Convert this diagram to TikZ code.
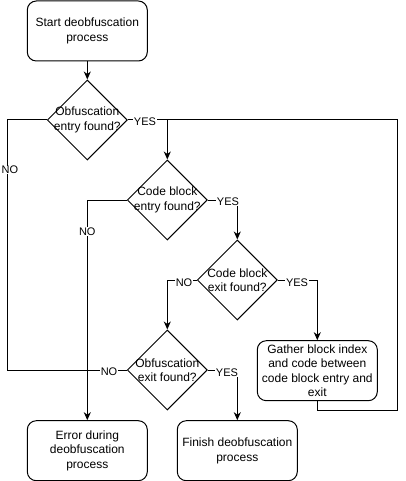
\documentclass[tikz,border=0pt]{standalone}
\usepackage{fontspec}
\setmainfont{Liberation Sans}
\usetikzlibrary{shapes.geometric,arrows.meta}
\begin{document}
\begin{tikzpicture}[x=1pt,y=-1pt,
  every node/.style={font=\fontsize{12}{14.4}\selectfont},
  proc/.style={draw,line width=1pt,rounded corners=9pt,minimum width=120pt,minimum height=60pt,align=center,inner sep=1pt},
  decision/.style={draw,line width=1pt,diamond,aspect=1,minimum width=80pt,minimum height=80pt,inner sep=0pt},
  dtext/.style={align=center,inner sep=0pt},
  flow/.style={line width=1pt,-{Stealth[length=8pt,width=7pt,inset=2.5pt]}},
  plain/.style={line width=1pt},
  lbl/.style={fill=white,inner sep=0.6pt,font=\fontsize{11}{12}\selectfont}]
\useasboundingbox (0,0) rectangle (406,481);

% process boxes
\node[proc] (start)  at (87.3,31)    {Start deobfuscation\\process};
\node[proc] (err)    at (87.3,450.7) {Error during\\deobfuscation\\process};
\node[proc] (fin)    at (237.3,450.7){Finish deobfuscation\\process};
\node[proc] (gather) at (317.3,370.7){Gather block index\\and code between\\code block entry and\\exit};

% decisions
\node[decision] (d1) at (87.3,120)  {};
\node[dtext] at (d1) {Obfuscation\\entry found?};
\node[decision] (d2) at (167.3,200) {};
\node[dtext] at (d2) {Code block\\entry found?};
\node[decision] (d3) at (237.3,280) {};
\node[dtext] at (d3) {Code block\\exit found?};
\node[decision] (d4) at (167.3,370) {};
\node[dtext] at (d4) {Obfuscation\\exit found?};

% routing points
\coordinate (lt)   at (7.3,120);
\coordinate (lpbr) at (397.3,410);
\coordinate (join) at (167.3,120);

% connectors
\draw[flow] (start) -- (d1);
\draw[flow] (d1.east) -| (d2.north);
\draw[flow] (d2.west) -| (err.north);
\draw[flow] (d2.east) -| (d3.north);
\draw[flow] (d3.west) -| (d4.north);
\draw[flow] (d3.east) -| (gather.north);
\draw[flow] (d4.east) -| (fin.north);
\draw[plain] (d1.west) -- (lt) |- (d4.west);
\draw[plain] (gather.south) |- (lpbr) |- (join);

% edge labels
\node[lbl] at (145,122)   {YES};
\node[lbl] at (10,170)    {NO};
\node[lbl] at (87.3,231.7){NO};
\node[lbl] at (228,201.7) {YES};
\node[lbl] at (184,283)   {NO};
\node[lbl] at (297,283)   {YES};
\node[lbl] at (109,372)   {NO};
\node[lbl] at (227,373)   {YES};
\end{tikzpicture}
\end{document}
